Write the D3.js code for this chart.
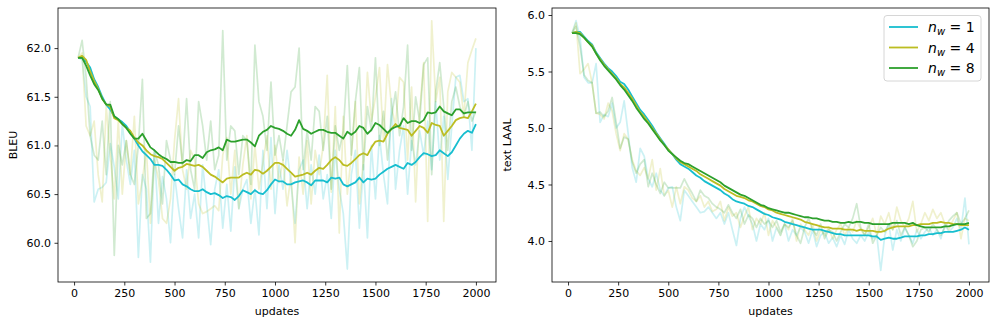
<!DOCTYPE html>
<html>
<head>
<meta charset="utf-8">
<script src="https://cdn.jsdelivr.net/npm/d3@7"></script>
<style>
  body { margin: 0; background: #fff; }
  text { font-family: "DejaVu Sans", sans-serif; fill: #000; }
</style>
</head>
<body>
<svg id="chart" width="997" height="326"></svg>
<script>
// x positions (updates)
const updates = [20,40,60,80,100,120,140,160,180,200,220,240,260,280,300,320,340,360,380,400,
  420,440,460,480,500,520,540,560,580,600,620,640,660,680,700,720,740,760,780,800,
  820,840,860,880,900,920,940,960,980,1000,1020,1040,1060,1080,1100,1120,1140,1160,1180,1200,
  1220,1240,1260,1280,1300,1320,1340,1360,1380,1400,1420,1440,1460,1480,1500,1520,1540,1560,1580,1600,
  1620,1640,1660,1680,1700,1720,1740,1760,1780,1800,1820,1840,1860,1880,1900,1920,1940,1960,1980,2000];

const seriesNames = ["1", "4", "8"];
const colors = ["#17becf", "#bcbd22", "#2ca02c"];

// BLEU, raw
const bleuRaw1 = [61.90,61.88,61.50,61.40,60.42,60.55,60.57,60.62,61.02,60.78,60.45,61.22,60.85,60.60,60.95,59.85,60.70,60.55,59.80,60.95,
  60.20,60.68,60.45,60.00,60.70,60.35,60.05,60.75,60.25,60.50,60.05,60.80,60.40,59.98,60.55,60.75,60.15,60.60,60.12,60.78,
  60.35,60.55,60.65,60.20,60.55,60.08,60.95,60.35,61.08,60.30,60.80,60.55,60.95,60.60,60.20,60.75,60.85,60.35,60.80,60.50,
  60.90,60.45,60.70,60.25,60.95,60.55,60.30,59.73,60.70,60.95,60.15,60.80,60.05,61.00,60.45,61.10,60.70,60.40,61.48,60.55,
  60.95,61.20,60.50,61.05,60.80,61.15,60.90,61.25,60.75,61.45,60.85,61.30,60.65,61.20,61.70,61.72,61.45,61.48,60.95,62.00];
const bleuRaw4 = [61.90,61.95,61.20,61.10,61.25,60.70,60.42,61.40,60.90,60.45,61.25,60.50,61.05,60.70,61.30,60.40,60.65,60.95,60.20,60.85,
  60.65,60.25,60.20,60.45,61.05,61.48,60.75,60.55,60.95,60.85,60.40,60.30,60.32,60.35,60.38,60.33,60.90,61.08,60.50,60.95,
  60.35,60.80,61.10,60.45,61.00,60.55,60.82,61.10,60.55,61.00,60.62,60.85,60.38,60.70,60.00,60.88,60.50,61.05,60.40,60.95,
  60.70,61.00,61.72,60.52,61.40,60.10,61.30,60.50,60.90,61.45,60.40,60.85,61.75,61.25,61.50,61.80,61.05,61.83,61.40,61.20,
  61.70,61.65,60.85,61.60,60.42,61.35,61.85,60.22,62.28,61.45,61.70,60.22,61.55,61.75,61.70,61.65,61.30,61.85,61.98,62.10];
const bleuRaw8 = [61.90,62.08,61.70,61.10,60.90,60.85,61.25,60.70,61.45,59.87,61.00,60.80,61.05,60.70,60.60,61.00,61.68,60.25,60.30,60.95,
  60.80,60.40,61.05,60.85,60.70,61.20,60.80,61.48,60.75,60.55,61.45,61.20,60.85,61.25,60.75,60.90,62.18,60.85,61.20,61.15,
  60.70,61.10,61.05,60.60,62.03,61.45,61.30,60.95,61.65,60.90,61.10,60.85,61.20,61.55,61.60,62.00,60.75,61.15,60.85,61.40,
  61.35,60.95,61.30,60.55,61.20,60.95,61.15,61.82,60.90,61.45,61.80,60.75,61.40,61.15,61.90,61.00,61.35,60.85,61.30,61.55,
  61.10,61.40,62.03,60.95,61.50,61.25,61.83,61.90,60.70,61.55,61.85,61.40,60.95,61.45,61.60,61.40,61.30,61.45,61.25,61.35];

// BLEU, smoothed
const bleuSmooth1 = [61.90,61.90,61.86,61.80,61.68,61.60,61.50,61.42,61.37,61.30,61.27,61.24,61.20,61.14,61.07,61.00,60.94,60.90,60.86,60.80,
  60.80,60.79,60.75,60.70,60.64,60.65,60.60,60.58,60.55,60.53,60.53,60.55,60.52,60.50,60.51,60.49,60.46,60.48,60.47,60.44,
  60.48,60.54,60.52,60.50,60.54,60.51,60.50,60.54,60.60,60.65,60.63,60.63,60.60,60.60,60.62,60.63,60.64,60.62,60.59,60.64,
  60.64,60.64,60.62,60.67,60.66,60.67,60.60,60.58,60.60,60.62,60.67,60.62,60.66,60.65,60.66,60.70,60.73,60.76,60.78,60.80,
  60.78,60.76,60.82,60.80,60.83,60.88,60.92,60.91,60.89,60.90,60.95,60.92,60.89,60.93,61.00,61.07,61.12,61.15,61.13,61.22];
const bleuSmooth4 = [61.90,61.92,61.88,61.76,61.66,61.58,61.48,61.42,61.40,61.28,61.26,61.22,61.18,61.15,61.08,61.03,61.00,60.95,60.91,60.89,
  60.88,60.86,60.82,60.78,60.74,60.77,60.78,60.81,60.80,60.79,60.80,60.78,60.74,60.70,60.68,60.65,60.62,60.66,60.67,60.67,
  60.67,60.70,60.72,60.70,60.75,60.74,60.71,60.74,60.78,60.82,60.82,60.80,60.76,60.72,60.68,60.69,60.70,60.72,60.70,60.74,
  60.77,60.76,60.80,60.85,60.88,60.85,60.80,60.79,60.82,60.86,60.90,60.92,60.90,60.98,61.04,61.05,61.04,61.12,61.17,61.22,
  61.18,61.17,61.16,61.10,61.15,61.20,61.18,61.13,61.23,61.21,61.20,61.10,61.15,61.20,61.26,61.28,61.29,61.28,61.35,61.43];
const bleuSmooth8 = [61.90,61.90,61.82,61.72,61.63,61.57,61.48,61.42,61.42,61.30,61.27,61.22,61.18,61.12,61.07,61.07,61.12,61.05,60.98,60.95,
  60.91,60.88,60.86,60.83,60.83,60.82,60.82,60.85,60.84,60.90,60.90,60.87,60.93,60.95,60.96,60.98,60.95,61.06,61.04,61.04,
  61.05,61.06,61.06,61.03,60.99,61.10,61.14,61.16,61.20,61.18,61.17,61.15,61.12,61.10,61.16,61.26,61.17,61.15,61.12,61.14,
  61.16,61.16,61.14,61.13,61.13,61.10,61.07,61.14,61.11,61.14,61.20,61.18,61.12,61.16,61.23,61.21,61.17,61.13,61.17,61.19,
  61.20,61.28,61.23,61.25,61.25,61.23,61.26,61.34,61.33,61.34,61.40,61.35,61.33,61.31,61.37,61.37,61.33,61.34,61.34,61.34];

// text LAAL, raw
const laalRaw1 = [5.84,5.95,5.80,5.45,5.40,5.40,5.57,5.05,5.12,5.10,5.22,5.00,5.05,5.24,4.95,4.65,4.52,4.82,4.75,4.55,
  4.48,4.60,4.45,4.40,4.47,4.48,4.30,4.18,4.45,4.40,4.35,4.30,4.25,4.26,4.30,4.25,4.20,4.25,4.15,4.25,
  4.10,3.96,4.20,4.30,4.22,4.15,4.00,4.15,4.10,4.20,4.00,4.12,4.05,4.15,4.00,4.10,4.05,4.12,4.08,3.98,
  4.10,3.95,4.05,4.08,3.98,4.03,3.95,4.05,3.97,4.10,4.02,3.98,4.05,4.00,4.08,4.02,4.05,3.74,4.05,4.15,
  3.92,4.10,4.00,4.12,4.05,3.98,4.10,4.02,4.08,4.12,4.05,4.10,4.02,4.15,4.08,4.12,4.20,4.10,4.38,3.97];
const laalRaw4 = [5.84,5.93,5.48,5.52,5.57,5.40,5.13,5.12,5.08,5.22,5.15,4.95,4.80,4.95,4.90,4.72,4.62,4.58,4.65,4.55,
  4.72,4.45,4.64,4.40,4.45,4.30,4.48,4.33,4.48,4.45,4.38,4.35,4.40,4.30,4.35,4.26,4.28,4.35,4.18,4.30,
  4.22,4.25,4.12,4.22,4.30,4.10,4.20,4.15,4.25,4.05,4.18,4.12,4.05,4.15,4.10,4.20,4.00,4.15,4.10,4.05,
  4.15,4.00,4.10,4.05,4.12,4.02,4.10,4.15,4.05,4.12,4.08,4.18,4.10,4.05,4.12,4.20,4.05,4.22,4.15,4.25,
  4.10,4.30,4.18,4.12,4.20,4.35,4.08,4.15,4.25,4.18,4.28,4.20,4.25,4.15,4.10,4.18,4.25,4.02,4.20,4.18];
const laalRaw8 = [5.84,5.90,5.72,5.47,5.42,5.40,5.13,5.14,5.10,5.15,5.27,5.05,4.82,4.92,4.90,4.70,4.60,4.68,4.72,4.48,
  4.60,4.50,4.42,4.52,4.47,4.47,4.47,4.47,4.55,4.48,4.42,4.35,4.45,4.40,4.38,4.33,4.30,4.28,4.25,4.32,
  4.25,4.20,4.28,4.15,4.23,4.20,4.12,4.20,4.15,4.18,4.12,4.18,4.08,4.15,4.12,4.18,4.05,3.98,4.12,4.20,
  4.10,4.05,4.15,4.02,4.10,4.08,4.00,4.08,4.15,4.12,4.20,4.33,4.12,4.05,4.15,3.98,4.05,4.12,4.08,4.15,
  4.10,4.18,4.05,4.12,4.05,3.95,4.00,4.10,4.12,4.08,4.15,4.10,4.05,4.12,4.18,4.22,4.25,4.15,4.20,4.27];

// text LAAL, smoothed
const laalSmooth1 = [5.84,5.85,5.85,5.81,5.77,5.74,5.67,5.62,5.57,5.53,5.50,5.46,5.41,5.39,5.34,5.28,5.22,5.16,5.12,5.07,
  5.02,4.96,4.91,4.86,4.81,4.77,4.72,4.68,4.66,4.64,4.61,4.58,4.56,4.53,4.51,4.49,4.47,4.45,4.42,4.40,
  4.37,4.35,4.34,4.33,4.31,4.30,4.28,4.26,4.24,4.23,4.21,4.20,4.19,4.17,4.16,4.15,4.14,4.13,4.12,4.11,
  4.10,4.10,4.10,4.09,4.08,4.07,4.06,4.06,4.05,4.05,4.05,4.05,4.05,4.05,4.05,4.04,4.04,4.01,4.02,4.03,
  4.02,4.02,4.03,4.04,4.04,4.04,4.04,4.05,4.05,4.06,4.06,4.07,4.07,4.08,4.08,4.08,4.09,4.10,4.12,4.10];
const laalSmooth4 = [5.84,5.85,5.84,5.80,5.76,5.73,5.66,5.61,5.56,5.52,5.48,5.44,5.39,5.36,5.31,5.26,5.20,5.14,5.10,5.05,
  5.00,4.95,4.90,4.85,4.81,4.77,4.73,4.70,4.68,4.66,4.64,4.62,4.59,4.57,4.55,4.53,4.51,4.49,4.46,4.44,
  4.42,4.40,4.39,4.38,4.36,4.35,4.33,4.31,4.30,4.28,4.27,4.25,4.24,4.23,4.22,4.21,4.20,4.19,4.17,4.16,
  4.15,4.14,4.13,4.12,4.12,4.11,4.11,4.11,4.10,4.10,4.10,4.09,4.10,4.09,4.09,4.09,4.08,4.08,4.09,4.11,
  4.12,4.13,4.13,4.13,4.13,4.14,4.14,4.15,4.15,4.15,4.16,4.16,4.17,4.16,4.16,4.15,4.15,4.14,4.14,4.14];
const laalSmooth8 = [5.84,5.84,5.83,5.80,5.76,5.72,5.66,5.60,5.55,5.51,5.47,5.43,5.38,5.34,5.29,5.24,5.18,5.13,5.08,5.04,
  4.99,4.94,4.89,4.85,4.80,4.77,4.74,4.71,4.69,4.68,4.66,4.64,4.62,4.60,4.58,4.56,4.54,4.52,4.49,4.47,
  4.45,4.43,4.41,4.40,4.38,4.36,4.34,4.32,4.31,4.29,4.28,4.27,4.26,4.25,4.25,4.24,4.23,4.22,4.21,4.21,
  4.20,4.20,4.19,4.18,4.18,4.17,4.17,4.16,4.16,4.17,4.16,4.17,4.17,4.16,4.16,4.15,4.15,4.15,4.15,4.15,
  4.16,4.16,4.16,4.16,4.15,4.16,4.14,4.13,4.12,4.12,4.12,4.12,4.12,4.13,4.13,4.14,4.15,4.15,4.15,4.16];

const xTicks = [0, 250, 500, 750, 1000, 1250, 1500, 1750, 2000];
const bleuTicks = [60.0, 60.5, 61.0, 61.5, 62.0];
const laalTicks = [4.0, 4.5, 5.0, 5.5, 6.0];

const svg = d3.select("#chart");

// one panel: box in page pixels, x/y domains, raw and smooth series
function drawPanel(box, yDomain, yTicks, yLabel, raw, smooth, withLegend) {
  const g = svg.append("g");

  const x = d3.scaleLinear().domain([-80, 2100]).range([box.left, box.right]);
  const y = d3.scaleLinear().domain(yDomain).range([box.bottom, box.top]);

  const line = d3.line()
    .x((d, i) => x(updates[i]))
    .y(d => y(d));

  const clipId = "clip" + box.left;
  svg.append("clipPath").attr("id", clipId)
    .append("rect")
    .attr("x", box.left).attr("y", box.top)
    .attr("width", box.right - box.left).attr("height", box.bottom - box.top);

  const plot = g.append("g").attr("clip-path", "url(#" + clipId + ")");

  raw.forEach((s, k) => {
    plot.append("path")
      .attr("d", line(s))
      .attr("fill", "none")
      .attr("stroke", colors[k])
      .attr("stroke-opacity", 0.22)
      .attr("stroke-width", 1.7)
      .attr("stroke-linejoin", "round");
  });

  smooth.forEach((s, k) => {
    plot.append("path")
      .attr("d", line(s))
      .attr("fill", "none")
      .attr("stroke", colors[k])
      .attr("stroke-width", 1.8)
      .attr("stroke-linejoin", "round");
  });

  // axes
  const xAxis = g.append("g")
    .attr("transform", "translate(0," + box.bottom + ")")
    .call(d3.axisBottom(x).tickValues(xTicks).tickSize(3.5).tickPadding(3.5).tickFormat(d3.format("d")));
  const yAxis = g.append("g")
    .attr("transform", "translate(" + box.left + ",0)")
    .call(d3.axisLeft(y).tickValues(yTicks).tickSize(3.5).tickPadding(3.5).tickFormat(d3.format(".1f")));

  [xAxis, yAxis].forEach(a => {
    a.select(".domain").remove();
    a.selectAll("text").attr("font-size", 11).attr("font-family", "DejaVu Sans, sans-serif");
    a.selectAll("line").attr("stroke", "#000").attr("stroke-width", 0.8);
  });

  g.append("rect")
    .attr("x", box.left).attr("y", box.top)
    .attr("width", box.right - box.left).attr("height", box.bottom - box.top)
    .attr("fill", "none").attr("stroke", "#000").attr("stroke-width", 0.8);

  g.append("text")
    .attr("x", (box.left + box.right) / 2)
    .attr("y", box.bottom + 33)
    .attr("text-anchor", "middle")
    .attr("font-size", 11)
    .text("updates");

  g.append("text")
    .attr("transform", "translate(" + (box.left - 41) + "," + ((box.top + box.bottom) / 2) + ") rotate(-90)")
    .attr("text-anchor", "middle")
    .attr("font-size", 11)
    .text(yLabel);

  if (withLegend) {
    const lg = g.append("g");
    lg.append("rect")
      .attr("x", 884).attr("y", 15.5).attr("width", 97).attr("height", 65.5)
      .attr("rx", 3)
      .attr("fill", "#fff").attr("fill-opacity", 0.8)
      .attr("stroke", "#ccc").attr("stroke-width", 0.8);
    seriesNames.forEach((name, k) => {
      const ly = 27 + k * 20.5;
      lg.append("line")
        .attr("x1", 889).attr("x2", 918).attr("y1", ly).attr("y2", ly)
        .attr("stroke", colors[k]).attr("stroke-width", 1.8);
      const t = lg.append("text").attr("x", 928).attr("y", ly + 5).attr("font-size", 14);
      t.append("tspan").attr("font-style", "italic").text("n");
      t.append("tspan").attr("font-style", "italic").attr("font-size", 10).attr("dy", 3).text("w");
      t.append("tspan").attr("dy", -3).text(" = " + name);
    });
  }
}

drawPanel({ left: 58, right: 496, top: 8, bottom: 282 }, [59.597, 62.412], bleuTicks, "BLEU",
  [bleuRaw1, bleuRaw4, bleuRaw8], [bleuSmooth1, bleuSmooth4, bleuSmooth8], false);

drawPanel({ left: 552, right: 989, top: 8, bottom: 282 }, [3.637, 6.062], laalTicks, "text LAAL",
  [laalRaw1, laalRaw4, laalRaw8], [laalSmooth1, laalSmooth4, laalSmooth8], true);
</script>
</body>
</html>
